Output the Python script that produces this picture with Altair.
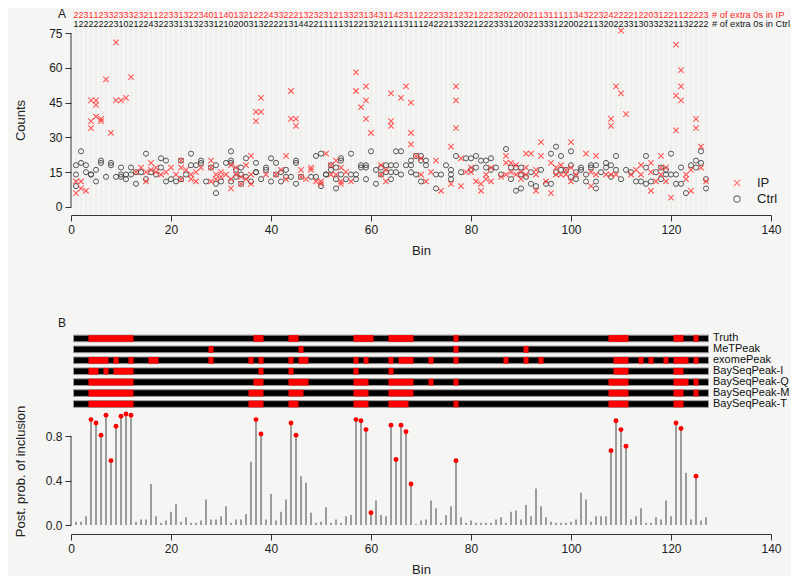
import altair as alt
import pandas as pd

bins = list(range(1, 128))

ip_extra_zeros = [2,2,3,1,1,2,3,3,2,3, 3,3,2,3,2,1,1,2,2,3, 3,1,3,2,2,3,4,0,1,1,
                  4,0,1,3,2,1,2,2,2,4, 3,3,2,2,2,1,3,2,3,2, 3,1,2,1,3,3,2,3,1,3,
                  4,3,1, 1,4,2,3,1,1,2,2,2,2, 3,3,2,1,2,3,2,1,2,2, 2,3,2,0,2,2,0,0,2,1,
                  1,3,1,1,1,1,1,3,4,3, 2,2,3,2,4,2,2,2,2,1, 2,2,0,3,1,2,2,1,1,2, 2,2,2,3]
ctrl_extra_zeros = [1,2,2,2,2,2,2,2,3,1, 0,2,1,2,2,4,3,2,2,3, 3,1,3,1,3,2,3,3,1,2,
                    1,0,2,0,0,3,1,3,2,2, 2,2,1,3,1,4,4,2,2,1, 1,1,1,1,3,1,2,2,1,3,
                    2,1,2, 1,1,1,3,1,1,1,2,4,2, 2,2,1,3,3,2,2,1,2,2, 2,3,3,3,1,2,0,3,2,2,
                    3,3, 3,1,2,2,0,0,2,2,1,1, 3,2,0,2,2,3,3,1,3,0, 3,3,2,3,2,1,1,3,2,2, 2,2]

ip_counts = [
    [11,6],[11,8],[7],[46,37,34],[46,44,39],[38,37],[55],[32],[71,46],[46],
    [47],[56],[15],[17],[15,11],[19,16],[17,15],[14],[15],[17],
    [14],[20,17,12],[16],[14,12],[15,11],[17],[],[20,17,11],[14,12],[15,13],
    [14],[18,12,8],[17,14],[13,10],[18,12],[22,14,10],[41,37],[47,41],[14],[],
    [14],[16],[22,12],[50,38],[38,35],[16,13],[12],[17,16],[11],[11,10],
    [23],[18,14],[20,14],[17,11,10],[15],[11],[58,50],[43],[52,46,38],[32],
    [],[18,14],[16,11],[49,37,35],[],[47],[52],[45,32,27],[22],[21,14],
    [11],[15],[20],[7],[],[26,10],[52,46,34],[21,9],[15],[17,15],
    [11],[10,7],[14,12],[17,11],[],[13],[22,19,14],[19,15],[18,14],[15,12],
    [23,17,14],[23],[16,14,7],[28,22],[11],[19,6],[17,14],[18,14],[16,14],[28,17,11],
    [14],[],[23],[15,9],[22,14],[],[14],[38,35,14],[52,14],[76,49],
    [40],[14],[16],[18,14],[],[19,15,7],[11],[22,17,14],[17,11],[4],
    [70,48,33],[59,52,46],[14,12],[16,7],[38,34],[26,17],[11],
]
ctrl_counts = [
    [18,14,9],[24,19],[18,15],[14,14],[16,11],[20,19],[13],[19,18],[13],[17,14,13],
    [14,12],[17,14],[15,10],[15],[23,12],[15],[14],[21,17],[20,11],[12],
    [11],[20,12],[14],[23,18],[18],[20,19],[11],[17],[18,10,6],[11],
    [19],[24,20,19,11],[16,13],[17,14,10],[21,13],[11],[19,15,15],[12],[17,16],[21,11],
    [19,14],[15,11],[16,13],[13],[20,19,10],[13],[],[13],[22,13],[23,9],
    [14,14],[18,16],[17,12,8],[21,20,14],[12],[23,14],[14,12],[18,17],[18,17,12],[24],
    [16,10],[17,14],[18,15],[18,15,12],[24,18,15],[24,14],[18],[20,18,15],[22,14],[22,20,11],
    [20,18],[],[14,8],[14],[18],[16,14,12],[22],[15],[21],[21,16],
    [22,17],[20],[20,17],[21,16],[17],[14],[25],[17,12],[17,7],[17,14,8],
    [13],[15,10],[9],[16],[10],[23,10],[26,15],[22,16],[16],[24,18,13],
    [15,12],[17,16],[14,11],[18,17],[18,11,8],[15],[19,17],[18,13],[22,16],[12],
    [16],[15],[11],[11],[22,17,10],[11],[15],[17,12],[16,14],[23,14],
    [14,10],[17,10],[6],[18],[20,17],[24,19],[12,8],
]

post_prob = [0.03,0.03,0.08,0.95,0.92,0.81,0.99,0.58,0.89,0.98,
             1.00,0.99,0.03,0.05,0.05,0.37,0.08,0.02,0.04,0.12,
             0.19,0.03,0.07,0.02,0.02,0.04,0.23,0.05,0.05,0.08,
             0.17,0.02,0.05,0.05,0.10,0.57,0.95,0.82,0.05,0.28,
             0.04,0.12,0.23,0.92,0.81,0.44,0.38,0.11,0.02,0.03,
             0.16,0.02,0.05,0.02,0.08,0.09,0.95,0.94,0.86,0.11,
             0.22,0.09,0.08,0.90,0.59,0.90,0.84,0.37,0.01,0.04,
             0.05,0.22,0.15,0.02,0.09,0.17,0.58,0.07,0.02,0.04,
             0.02,0.02,0.02,0.02,0.05,0.07,0.02,0.12,0.13,0.05,
             0.18,0.08,0.33,0.17,0.07,0.03,0.02,0.02,0.02,0.03,
             0.05,0.29,0.23,0.03,0.08,0.08,0.08,0.67,0.94,0.86,
             0.71,0.05,0.08,0.15,0.02,0.02,0.07,0.05,0.22,0.08,
             0.92,0.87,0.47,0.05,0.44,0.04,0.07]

track_names = ["Truth", "MeTPeak", "exomePeak", "BaySeqPeak-I",
               "BaySeqPeak-Q", "BaySeqPeak-M", "BaySeqPeak-T"]
truth_ranges = [(4,12),(37,38),(44,45),(57,60),(64,68),(77,77),(108,111),(121,122),(125,125)]
metpeak_ranges = [(28,28),(46,46),(77,77),(91,91)]
exomepeak_ranges = [(4,7),(9,9),(12,12),(16,17),(28,28),(36,36),(38,38),(44,44),(46,47),
                    (57,57),(59,59),(64,64),(66,68),(72,72),(77,77),(87,87),(91,91),(94,94),
                    (109,111),(114,114),(116,116),(119,119),(121,123),(125,125)]
bsp_i_ranges = [(4,5),(7,7),(9,12),(38,38),(44,44),(57,57),(64,64),(109,111),(121,122)]
bsp_q_ranges = [(4,12),(37,38),(44,47),(57,59),(64,68),(72,72),(77,77),(108,111),(121,123),(125,125)]
bsp_m_ranges = [(4,12),(36,38),(44,46),(57,59),(64,68),(108,111),(121,122),(125,125)]
bsp_t_ranges = [(4,12),(36,38),(44,45),(57,59),(64,67),(77,77),(108,111),(121,122)]
all_ranges = [truth_ranges, metpeak_ranges, exomepeak_ranges, bsp_i_ranges,
              bsp_q_ranges, bsp_m_ranges, bsp_t_ranges]

legend_labels = ["IP", "Ctrl"]
x_ticks = [0, 20, 40, 60, 80, 100, 120, 140]
y_ticks_a = [0, 15, 30, 45, 60, 75]
y_ticks_b = [0.0, 0.4, 0.8]

# ---------------- data frames ----------------
ip_df = pd.DataFrame([{"bin": b, "count": v} for b, vs in zip(bins, ip_counts) for v in vs])
ctrl_df = pd.DataFrame([{"bin": b, "count": v} for b, vs in zip(bins, ctrl_counts) for v in vs])
bin_df = pd.DataFrame({"bin": bins, "ip0": ip_extra_zeros, "ctrl0": ctrl_extra_zeros,
                       "p": post_prob})
truth_set = set(b for s, e in truth_ranges for b in range(s, e + 1))
bin_df["truth"] = [b in truth_set for b in bins]
red_df = bin_df[bin_df["truth"]]

track_df = pd.DataFrame({"row": list(range(len(track_names))), "name": track_names})
track_df["x0"] = bins[0] - 0.5
track_df["x1"] = bins[-1] + 0.5
track_df["y0"] = track_df["row"] - 0.305
track_df["y1"] = track_df["row"] + 0.305
seg_df = pd.DataFrame([{"row": i, "x0": s - 0.5, "x1": e + 0.5, "y0": i - 0.305, "y1": i + 0.305}
                       for i, rr in enumerate(all_ranges) for s, e in rr])

XPATH = "M-1,-1L1,1M-1,1L1,-1"
FONT = "Liberation Sans"
W = 700
A_H = 190
B_H = 201
IP_RED = "#ff3c3c"
CTRL_COL = "#3c3c3c"
AX = "#333333"

xscale = alt.Scale(domain=[0, 140], nice=False, zero=False)

def x_axis(title):
    return alt.Axis(values=x_ticks, title=title, grid=False, tickSize=6, labelPadding=3,
                    labelFontSize=12, titleFontSize=13, titleFontWeight="normal",
                    labelColor="#222", titleColor="#222", domainColor=AX, tickColor=AX,
                    labelFont=FONT, titleFont=FONT, titleY=35, titleBaseline="middle",
                    labelFlush=False, labelOverlap=False)

def y_axis(values, title, ty, fmt=None):
    kw = dict(values=values, title=title, grid=False, domain=False, tickSize=6,
              labelPadding=3, labelFontSize=12, titleFontSize=13, titleFontWeight="normal",
              labelColor="#222", titleColor="#222", tickColor=AX, labelFont=FONT,
              titleFont=FONT, titleX=-51, titleY=ty, titleAngle=-90,
              titleBaseline="middle", titleAlign="center", labelOverlap=False)
    if fmt:
        kw["format"] = fmt
    return alt.Axis(**kw)

# ---------------- Panel A ----------------
yA = alt.Scale(domain=[-3.45, 78.45], nice=False, zero=False)
yA_axis = y_axis(y_ticks_a, "Counts", 95)
xA_axis = x_axis("Bin")

grid = alt.Chart(bin_df).mark_rule(color="#d4d8d4", strokeDash=[1, 1], strokeWidth=0.8).encode(
    x=alt.X("bin:Q", scale=xscale, axis=xA_axis),
    y=alt.value(0), y2=alt.value(A_H))

yaxis_line = alt.Chart(pd.DataFrame({"a": [y_ticks_a[0]], "b": [y_ticks_a[-1]]})).mark_rule(
    color=AX, strokeWidth=1).encode(x=alt.value(0),
                                    y=alt.Y("a:Q", scale=yA, axis=yA_axis), y2="b:Q")

ctrl_pts = alt.Chart(ctrl_df).mark_point(shape="circle", filled=False, size=26, strokeWidth=1,
                                         color=CTRL_COL, opacity=0.85).encode(
    x=alt.X("bin:Q", scale=xscale, axis=xA_axis),
    y=alt.Y("count:Q", scale=yA, axis=yA_axis))
ip_pts = alt.Chart(ip_df).mark_point(shape=XPATH, filled=False, size=30, strokeWidth=1.1,
                                     color=IP_RED, opacity=0.85).encode(
    x=alt.X("bin:Q", scale=xscale, axis=xA_axis),
    y=alt.Y("count:Q", scale=yA, axis=yA_axis))

ip0_txt = alt.Chart(bin_df).mark_text(fontSize=8.9, color="#ff2a2a", font=FONT,
                                      baseline="middle").encode(
    x=alt.X("bin:Q", scale=xscale, axis=xA_axis), y=alt.value(-10), text="ip0:N")
ctrl0_txt = alt.Chart(bin_df).mark_text(fontSize=8.9, color="#111", font=FONT,
                                        baseline="middle").encode(
    x=alt.X("bin:Q", scale=xscale, axis=xA_axis), y=alt.value(-1), text="ctrl0:N")
lab_df = pd.DataFrame({"t": ["# of extra 0s in IP", "# of extra 0s in Ctrl"],
                       "c": ["ip", "ctrl"]})
lab_ip = alt.Chart(lab_df[lab_df.c == "ip"]).mark_text(
    fontSize=9.3, color="#ff2a2a", font=FONT, align="left", baseline="middle").encode(
    x=alt.value(641), y=alt.value(-10), text="t:N")
lab_ctrl = alt.Chart(lab_df[lab_df.c == "ctrl"]).mark_text(
    fontSize=9.3, color="#111", font=FONT, align="left", baseline="middle").encode(
    x=alt.value(641), y=alt.value(-1), text="t:N")

leg_df = pd.DataFrame({"t": legend_labels})
leg_ip_sym = alt.Chart(leg_df[leg_df.t == "IP"]).mark_point(
    shape=XPATH, filled=False, size=40, strokeWidth=1.2, color=IP_RED).encode(
    x=alt.value(666), y=alt.value(158))
leg_ctrl_sym = alt.Chart(leg_df[leg_df.t == "Ctrl"]).mark_point(
    shape="circle", filled=False, size=40, strokeWidth=1.1, color=CTRL_COL).encode(
    x=alt.value(666), y=alt.value(174))
leg_ip_txt = alt.Chart(leg_df[leg_df.t == "IP"]).mark_text(
    fontSize=13, font=FONT, align="left", baseline="middle", color="#222").encode(
    x=alt.value(686), y=alt.value(158), text="t:N")
leg_ctrl_txt = alt.Chart(leg_df[leg_df.t == "Ctrl"]).mark_text(
    fontSize=13, font=FONT, align="left", baseline="middle", color="#222").encode(
    x=alt.value(686), y=alt.value(174), text="t:N")

a_lab = alt.Chart(pd.DataFrame({"t": ["A"]})).mark_text(
    fontSize=12, font=FONT, align="center", baseline="middle", color="#222").encode(
    x=alt.value(-9), y=alt.value(-11), text="t:N")

panelA = alt.layer(grid, yaxis_line, ctrl_pts, ip_pts, ip0_txt, ctrl0_txt, lab_ip, lab_ctrl,
                   leg_ip_sym, leg_ctrl_sym, leg_ip_txt, leg_ctrl_txt, a_lab).properties(
    width=W, height=A_H)

# ---------------- Panel B: tracks + posterior probabilities ----------------
xB_axis = x_axis("Bin")
yT = alt.Scale(domain=[-0.5, 17.9], reverse=True, nice=False, zero=False)
bars = alt.Chart(track_df).mark_rect(color="#000000", stroke="#9a9a9a", strokeWidth=1).encode(
    x=alt.X("x0:Q", scale=xscale, axis=xB_axis), x2="x1:Q",
    y=alt.Y("y0:Q", scale=yT, axis=None), y2="y1:Q")
segs = alt.Chart(seg_df).mark_rect(color="#ff0000").encode(
    x=alt.X("x0:Q", scale=xscale, axis=xB_axis), x2="x1:Q",
    y=alt.Y("y0:Q", scale=yT, axis=None), y2="y1:Q")
names = alt.Chart(track_df).mark_text(fontSize=11, font=FONT, align="left",
                                      baseline="middle", color="#111").encode(
    x=alt.value(642), y=alt.Y("row:Q", scale=yT, axis=None), text="name:N")
b_lab = alt.Chart(pd.DataFrame({"t": ["B"]})).mark_text(
    fontSize=12, font=FONT, align="center", baseline="middle", color="#222").encode(
    x=alt.value(-9), y=alt.value(-10), text="t:N")
tracks = alt.layer(bars, segs, names, b_lab)

yP = alt.Scale(domain=[-0.081, 1.7306], nice=False, zero=False)
yP_axis = y_axis(y_ticks_b, "Post. prob. of inclusion", 138, ".1f")
yaxis_line_b = alt.Chart(pd.DataFrame({"a": [y_ticks_b[0]], "b": [y_ticks_b[-1]]})).mark_rule(
    color=AX, strokeWidth=1).encode(x=alt.value(0),
                                    y=alt.Y("a:Q", scale=yP, axis=yP_axis), y2="b:Q")
stems = alt.Chart(bin_df).mark_rule(color="#8c8c8c", strokeWidth=1.7).encode(
    x=alt.X("bin:Q", scale=xscale, axis=xB_axis),
    y=alt.Y("p:Q", scale=yP, axis=yP_axis),
    y2=alt.datum(0))
dots = alt.Chart(red_df).mark_circle(color="#ff0000", size=24, opacity=1).encode(
    x=alt.X("bin:Q", scale=xscale, axis=xB_axis), y=alt.Y("p:Q", scale=yP, axis=yP_axis))
probs = alt.layer(yaxis_line_b, stems, dots)

panelB = alt.layer(probs, tracks).resolve_scale(y="independent").properties(
    width=W, height=B_H)

chart = alt.vconcat(panelA, panelB, spacing=60).properties(
    padding={"left": 6, "top": 0, "right": 0, "bottom": 0},
    background="#f5f6f4"
).configure_view(stroke=None)

chart.save("out.html", embed_options={"renderer": "svg", "actions": False})
